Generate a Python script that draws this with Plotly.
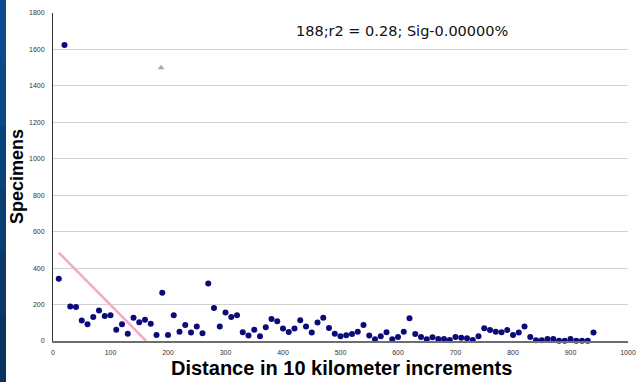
import plotly.graph_objects as go

# Data
dist = [10, 20, 30, 40, 50, 60, 70, 80, 90, 100,
        110, 120, 130, 140, 150, 160, 170, 180, 190, 200,
        210, 220, 230, 240, 250, 260, 270, 280, 290, 300,
        310, 320, 330, 340, 350, 360, 370, 380, 390, 400,
        410, 420, 430, 440, 450, 460, 470, 480, 490, 500,
        510, 520, 530, 540, 550, 560, 570, 580, 590, 600,
        610, 620, 630, 640, 650, 660, 670, 680, 690, 700,
        710, 720, 730, 740, 750, 760, 770, 780, 790, 800,
        810, 820, 830, 840, 850, 860, 870, 880, 890, 900,
        910, 920, 930, 940]
specimens = [342, 1625, 190, 187, 113, 92, 132, 167, 137, 141,
             62, 92, 40, 128, 103, 117, 95, 33, 265, 33,
             141, 51, 88, 46, 79, 42, 315, 181, 79, 157,
             132, 141, 48, 30, 62, 26, 75, 121, 108, 68,
             50, 68, 114, 79, 46, 101, 128, 72, 40, 26,
             31, 38, 51, 88, 30, 9, 26, 48, 9, 22,
             51, 125, 38, 22, 9, 20, 11, 11, 5, 22,
             18, 15, 5, 26, 70, 61, 51, 48, 61, 33,
             46, 79, 22, 4, 4, 11, 11, 2, 2, 11,
             2, 2, 2, 46]

marker_x = [188]
marker_y = [1500]

trend_x = [10, 162]
trend_y = [485, 0]

annotation_text = "188;r2 = 0.28; Sig-0.00000%"
x_title = "Distance in 10 kilometer increments"
y_title = "Specimens"

fig = go.Figure()
fig.add_trace(go.Scatter(x=trend_x, y=trend_y, mode="lines",
                         line=dict(color="#F6A8CA", width=2.5),
                         hoverinfo="skip", showlegend=False, cliponaxis=False))
fig.add_trace(go.Scatter(x=dist, y=specimens, mode="markers",
                         marker=dict(color="#0A0A7A", size=6, symbol="circle"),
                         showlegend=False, cliponaxis=False))
fig.add_trace(go.Scatter(x=marker_x, y=marker_y, mode="markers",
                         marker=dict(color="#A8A8A8", size=6, symbol="triangle-up"),
                         showlegend=False))

W, H = 640, 382
L, R, T, B = 53, 12, 13, 41
pw, ph = W - L - R, H - T - B

def px_x(px):
    return (px - L) / pw

def px_y(py):
    return (H - py - B) / ph

# dark blue strip at the left edge (approximating gradient with bands)
bands = ["#0A4C8E", "#0A4886", "#0A437C", "#0A3E72", "#0A3868", "#0A335E"]
n = len(bands)
for i, c in enumerate(bands):
    y_top = px_y(i * H / n)
    y_bot = px_y((i + 1) * H / n)
    fig.add_shape(type="rect", xref="paper", yref="paper",
                  x0=px_x(-2), x1=px_x(6),
                  y0=y_bot - 0.003, y1=y_top + 0.003,
                  fillcolor=c, line=dict(width=0), layer="above")

fig.add_annotation(x=px_x(402), y=px_y(31), xref="paper", yref="paper",
                   text=annotation_text, showarrow=False,
                   font=dict(family="DejaVu Sans", size=14.5, color="#111111"),
                   xanchor="center", yanchor="middle")
fig.add_annotation(x=px_x(341), y=px_y(368), xref="paper", yref="paper",
                   text="<b>" + x_title + "</b>", showarrow=False,
                   font=dict(family="Liberation Sans, Arial", size=20, color="#000000"),
                   xanchor="center", yanchor="middle")
fig.add_annotation(x=px_x(17), y=px_y(177), xref="paper", yref="paper",
                   text="<b>" + y_title + "</b>", showarrow=False, textangle=-90,
                   font=dict(family="Liberation Sans, Arial", size=18, color="#000000"),
                   xanchor="center", yanchor="middle")

fig.update_layout(
    width=W, height=H,
    margin=dict(l=L, r=R, t=T, b=B, autoexpand=False),
    plot_bgcolor="white", paper_bgcolor="white",
    font=dict(family="Liberation Sans, Arial", color="#333333"),
    xaxis=dict(range=[0, 1000], tickmode="linear", tick0=0, dtick=100,
               showgrid=False, zeroline=False, automargin=False,
               showline=True, linecolor="#6E6E6E", linewidth=1.5,
               ticks="outside", ticklen=4, tickcolor="rgba(0,0,0,0)",
               tickfont=dict(size=7, color="#333333")),
    yaxis=dict(range=[0, 1800], tickmode="linear", tick0=0, dtick=200,
               showgrid=True, gridcolor="#D2D2D2", gridwidth=1,
               zeroline=False, automargin=False,
               showline=True, linecolor="#333333", linewidth=1,
               ticks="outside", ticklen=6, tickcolor="rgba(0,0,0,0)",
               tickfont=dict(size=7, color="#333333")),
)

fig.write_html("out.html")
